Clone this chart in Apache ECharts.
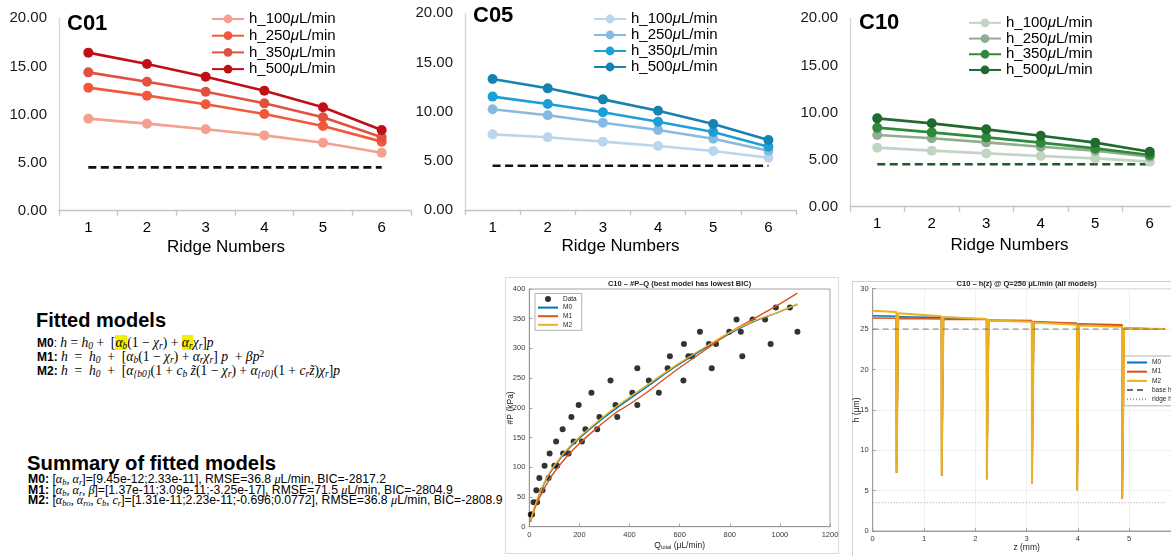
<!DOCTYPE html>
<html><head><meta charset="utf-8">
<script src="https://cdn.jsdelivr.net/npm/echarts@6/dist/echarts.min.js"></script>
<style>
html,body{margin:0;padding:0;background:#fff;width:1171px;height:556px;overflow:hidden;position:relative;font-family:"Liberation Sans",Arial,sans-serif;}
.ch{position:absolute;}
.bx{position:absolute;border:1px solid #d4d4d4;pointer-events:none;}
.txt{position:absolute;white-space:nowrap;color:#000;}
.m{font-family:"Liberation Serif","DejaVu Serif",serif;font-style:italic;font-size:13.6px;}
.r{font-family:"Liberation Serif","DejaVu Serif",serif;font-style:normal;font-size:13.6px;}
sub{font-size:70%;vertical-align:-0.25em;line-height:0;}
sup{font-size:70%;vertical-align:0.4em;line-height:0;}
.hl{background:#f3ef00;}
.sm .m{font-size:12.2px;}
</style></head><body>
<div id="c01" class="ch" style="left:0;top:0;width:430px;height:265px"></div>
<div id="c05" class="ch" style="left:400px;top:0;width:420px;height:265px"></div>
<div id="c10" class="ch" style="left:780px;top:0;width:420px;height:265px"></div>

<div class="txt" style="left:36px;top:310px;font-size:20px;line-height:20px;font-weight:bold">Fitted models</div>
<div class="txt" style="left:37px;top:336px;font-size:12px;line-height:14px">
<div><b>M0</b>: <span class="m">h</span> <span class="r">=</span> <span class="m">h<sub>0</sub></span> <span class="r">+ &nbsp;[</span><span class="m hl">α<sub>b</sub></span><span class="r">(1 − </span><span class="m">χ<sub>r</sub></span><span class="r">) + </span><span class="m hl">α<sub>r</sub></span><span class="m">χ<sub>r</sub></span><span class="r">]</span><span class="m">p</span></div>
<div><b>M1:</b> <span class="m">h</span> <span class="r">&nbsp;= &nbsp;</span><span class="m">h<sub>0</sub></span> <span class="r">&nbsp;+ &nbsp;[</span><span class="m">α<sub>b</sub></span><span class="r">(1 − </span><span class="m">χ<sub>r</sub></span><span class="r">) + </span><span class="m">α<sub>r</sub>χ<sub>r</sub></span><span class="r">] </span><span class="m">p</span><span class="r"> &nbsp;+ </span><span class="m">βp</span><span class="r"><sup>2</sup></span></div>
<div><b>M2:</b> <span class="m">h</span> <span class="r">&nbsp;= &nbsp;</span><span class="m">h<sub>0</sub></span> <span class="r">&nbsp;+ &nbsp;[</span><span class="m">α<sub>{b0}</sub></span><span class="r">(1 + </span><span class="m">c<sub>b</sub> z̃</span><span class="r">(1 − </span><span class="m">χ<sub>r</sub></span><span class="r">) + </span><span class="m">α<sub>{r0}</sub></span><span class="r">(1 + </span><span class="m">c<sub>r</sub>z̃</span><span class="r">)</span><span class="m">χ<sub>r</sub></span><span class="r">]</span><span class="m">p</span></div>
</div>

<div class="txt" style="left:27px;top:453px;font-size:20.3px;line-height:20px;font-weight:bold">Summary of fitted models</div>
<div class="txt sm" style="left:28px;top:474px;font-size:12.2px;line-height:10.7px">
<div><b>M0:</b> [<span class="m">α<sub>b</sub>, α<sub>r</sub></span>]=[9.45e-12;2.33e-11], RMSE=36.8 <span class="m">μ</span>L/min, BIC=-2817.2</div>
<div><b>M1:</b> [<span class="m">α<sub>b</sub>, α<sub>r</sub>, β</span>]=[1.37e-11;3.09e-11;-3.25e-17], RMSE=71.5 <span class="m">μ</span>L/min, BIC=-2804.9</div>
<div><b>M2:</b> [<span class="m">α<sub>bo</sub>, α<sub>ro</sub>, c<sub>b</sub>, c<sub>r</sub></span>]=[1.31e-11;2.23e-11;-0.696;0.0772], RMSE=36.8 <span class="m">μ</span>L/min, BIC=-2808.9</div>
</div>

<div class="bx" style="left:505px;top:277px;width:332px;height:275px;border-color:#dcdcdc"></div>
<div class="bx" style="left:852px;top:281px;width:340px;height:300px;border-color:#d0d0d0"></div>
<div id="sc" class="ch" style="left:500px;top:270px;width:345px;height:286px"></div>
<div id="hz" class="ch" style="left:840px;top:270px;width:360px;height:286px"></div>

<script>
// ---------- Top panels: ridge heights ----------
var ridgeCategories = ['1', '2', '3', '4', '5', '6'];
var seriesNames = ['h_100μL/min', 'h_250μL/min', 'h_350μL/min', 'h_500μL/min'];

var c01_h100 = [9.57, 9.05, 8.46, 7.83, 7.07, 6.03];
var c01_h250 = [12.79, 11.96, 11.06, 10.05, 8.80, 7.18];
var c01_h350 = [14.38, 13.41, 12.37, 11.16, 9.71, 7.63];
var c01_h500 = [16.43, 15.25, 13.93, 12.48, 10.75, 8.39];

var c05_h100 = [7.69, 7.39, 6.95, 6.51, 6.00, 5.32];
var c05_h250 = [10.24, 9.63, 8.88, 8.14, 7.25, 6.03];
var c05_h350 = [11.53, 10.78, 9.93, 8.98, 7.93, 6.44];
var c05_h500 = [13.32, 12.37, 11.25, 10.10, 8.75, 7.12];

var c10_h100 = [6.27, 5.95, 5.66, 5.38, 5.13, 4.78];
var c10_h250 = [7.61, 7.26, 6.83, 6.37, 5.95, 5.31];
var c10_h350 = [8.39, 7.89, 7.36, 6.80, 6.19, 5.49];
var c10_h500 = [9.38, 8.85, 8.21, 7.54, 6.80, 5.84];

var baseLevel = [4.5, 4.5, 4.5, 4.5, 4.5, 4.5];

// ---------- Scatter panel: #P vs Q ----------
var qData = [6, 11, 17, 31, 28, 53, 40, 77, 61, 100, 111, 81, 135, 157, 107, 177, 210, 133, 224, 271,
  168, 280, 351, 197, 344, 431, 248, 411, 517, 324, 477, 615, 431, 552, 728, 561, 635, 651, 850,
  617, 717, 745, 963, 681, 798, 844, 1070, 827, 891, 941, 984, 1040];
var pData = [20.5, 20.5, 41, 41, 61.5, 61.5, 82, 82, 102.5, 102.5, 102.5, 123, 123, 123, 143.5, 143.5, 143.5, 164, 164, 164,
  184.5, 184.5, 184.5, 205, 205, 205, 225.5, 225.5, 225.5, 246, 246, 246, 266.5, 266.5, 266.5, 287, 287, 287, 287,
  307.5, 307.5, 307.5, 307.5, 328, 328, 328, 328, 348.5, 348.5, 348.5, 369, 369];
var qFit = [5, 25, 50, 75, 100, 150, 200, 275, 350, 400, 475, 575, 700, 800, 900, 1000, 1070];
var m0Fit = [10, 38, 64, 85, 101, 128, 149, 176, 200, 215, 237, 267, 300, 325, 346, 362, 374];
var m1Fit = [8, 34, 57, 76, 92, 118, 140, 168, 193, 206, 228, 260, 297, 327, 351, 375, 393];
var m2Fit = [10, 39, 65, 87, 103, 130, 151, 178, 203, 218, 240, 269, 302, 327, 347, 362, 375];

// ---------- h(z) panel ----------
var zProfile = [0, 0.46, 0.465, 0.495, 0.50, 1.34, 1.345, 1.375, 1.38, 2.22, 2.225, 2.255, 2.26,
  3.10, 3.105, 3.135, 3.14, 3.98, 3.985, 4.015, 4.02, 4.86, 4.865, 4.895, 4.90, 5.70];
var hM0 = [26.66, 26.58, 7.2, 7.05, 26.54, 26.42, 6.8, 6.65, 26.38, 26.25, 6.4, 6.25, 26.05,
  25.95, 5.85, 5.7, 25.85, 25.7, 5.05, 4.9, 25.5, 25.4, 3.95, 3.78, 25.1, 25.0];
var hM1 = [26.37, 26.33, 7.2, 7.05, 26.3, 26.25, 6.8, 6.65, 26.22, 26.18, 6.4, 6.25, 26.12,
  26.05, 5.85, 5.7, 25.93, 25.72, 5.05, 4.9, 25.65, 25.55, 3.95, 3.78, 25.1, 25.0];
var hM2 = [27.28, 27.1, 7.2, 7.05, 26.96, 26.6, 6.8, 6.65, 26.5, 26.26, 6.4, 6.25, 26.05,
  25.9, 5.85, 5.7, 25.8, 25.55, 5.05, 4.9, 25.43, 25.3, 3.95, 3.78, 25.1, 25.0];
var zRef = [0, 5.7];
var baseH0 = [25, 25];
var ridgeHr = [3.5, 3.5];

function zip(a, b) { return a.map(function (v, i) { return [v, b[i]]; }); }
function lineItem(n) { return { name: n, itemStyle: { opacity: 0 } }; }

function topChart(id, cfg) {
  var ch = echarts.init(document.getElementById(id), null, { renderer: 'canvas' });
  var series = cfg.values.map(function (vals, i) {
    return {
      name: seriesNames[i], type: 'line', data: vals, symbol: 'circle', symbolSize: 10,
      lineStyle: { width: 2.6, color: cfg.colors[i] }, itemStyle: { color: cfg.colors[i] },
      z: 3 + i
    };
  });
  series.push({
    name: 'ref', type: 'line', data: baseLevel, symbol: 'none',
    lineStyle: { width: 2.6, color: cfg.refColor, type: [8, 4.5] }, z: 2
  });
  ch.setOption({
    animation: false,
    title: { text: cfg.title, left: cfg.titleLeft, top: cfg.titleTop, padding: 0,
      textStyle: { fontSize: 22, fontWeight: 'bold', color: '#000', fontFamily: 'Liberation Sans' } },
    legend: { orient: 'vertical', left: cfg.legLeft, top: cfg.legTop, padding: 0, itemGap: cfg.legGap,
      itemWidth: 32, itemHeight: 11, data: seriesNames,
      formatter: function (n) { return n.replace('μ', '{i|μ}'); },
      textStyle: { fontSize: 15, color: '#000', lineHeight: cfg.legLH, fontFamily: 'Liberation Sans',
        rich: { i: { fontSize: 15, fontStyle: 'italic', color: '#000', fontFamily: 'Liberation Sans', lineHeight: cfg.legLH } } } },
    grid: { left: cfg.grid[0], top: cfg.grid[1], width: cfg.grid[2], height: cfg.grid[3], outerBoundsMode: 'none', containLabel: false },
    xAxis: { type: 'category', data: ridgeCategories, boundaryGap: true,
      axisLine: { lineStyle: { color: '#c4c4c4', width: 1.3 } },
      axisTick: { show: true, length: 5, lineStyle: { color: '#c4c4c4', width: 1.3 } },
      axisLabel: { fontSize: 15, color: '#000', margin: 10, fontFamily: 'Liberation Sans' },
      name: 'Ridge Numbers', nameLocation: 'middle', nameGap: cfg.nameGap, nameMoveOverlap: false,
      nameTextStyle: { fontSize: 17, color: '#000', padding: [0, cfg.nameShift, 0, 0], fontFamily: 'Liberation Sans' } },
    yAxis: { type: 'value', min: 0, max: 20, interval: 5,
      axisLine: { show: true, lineStyle: { color: '#d6d6d6', width: 1.3 } },
      axisTick: { show: false }, splitLine: { show: false },
      axisLabel: { fontSize: 15, color: '#1a1a1a', margin: 12, fontFamily: 'Liberation Sans',
        formatter: function (v) { return v.toFixed(2); } } },
    series: series
  });
}

topChart('c01', {
  title: 'C01', titleLeft: 67, titleTop: 13, legLeft: 211, legTop: 11, legGap: 0.7, legLH: 16,
  grid: [59, 18.3, 352, 192.4], nameGap: 28, nameShift: 18,
  colors: ['#F5A08E', '#F3583C', '#E2503F', '#C10F17'], refColor: '#111',
  values: [c01_h100, c01_h250, c01_h350, c01_h500]
});
topChart('c05', {
  title: 'C05', titleLeft: 73, titleTop: 5, legLeft: 193, legTop: 11, legGap: 0, legLH: 16,
  grid: [65, 13.3, 331, 196.7], nameGap: 28, nameShift: 20,
  colors: ['#BAD5EC', '#88BAE0', '#1C9FD6', '#1682B2'], refColor: '#111',
  values: [c05_h100, c05_h250, c05_h350, c05_h500]
});
topChart('c10', {
  title: 'C10', titleLeft: 79, titleTop: 12, legLeft: 188, legTop: 15, legGap: 0, legLH: 15.7,
  grid: [70, 18.3, 327, 188.4], nameGap: 30, nameShift: 8,
  colors: ['#C4D4C4', '#90AD90', '#2E8A3B', '#1F6A2C'], refColor: '#1E5A28',
  values: [c10_h100, c10_h250, c10_h350, c10_h500]
});

// ---------- scatter ----------
var sc = echarts.init(document.getElementById('sc'));
var matAxis = function (o) {
  return Object.assign({
    axisLine: { show: true, onZero: false, lineStyle: { color: '#8c8c8c', width: 0.8 } },
    axisTick: { show: true, inside: true, length: 3, lineStyle: { color: '#8c8c8c', width: 0.8 } },
    axisLabel: { fontSize: 7.5, color: '#3a3a3a', margin: 4, fontFamily: 'Liberation Sans',
      formatter: function (v) { return String(v); } },
    nameLocation: 'middle', nameMoveOverlap: false,
    nameTextStyle: { fontSize: 8.5, color: '#222', fontFamily: 'Liberation Sans' }
  }, o);
};
sc.setOption({
  animation: false,
  grid: { left: 29.3, top: 19, width: 300.7, height: 237.7, show: true, borderColor: '#8c8c8c', borderWidth: 0.8, outerBoundsMode: 'none', containLabel: false },
  graphic: [{ type: 'text', x: 179.6, y: 13.5, style: { text: 'C10 – #P–Q (best model has lowest BIC)', textAlign: 'center', textVerticalAlign: 'middle', font: 'bold 7.5px "Liberation Sans"', fill: '#222' } }],
  legend: { orient: 'vertical', left: 35, top: 23.5, padding: [2, 5, 2, 2], itemGap: 1.6, itemWidth: 20, itemHeight: 6,
    backgroundColor: '#fff', borderColor: '#7a7a7a', borderWidth: 0.6,
    textStyle: { fontSize: 6.5, color: '#222', fontFamily: 'Liberation Sans' },
    data: ['Data', lineItem('M0'), lineItem('M1'), lineItem('M2')] },
  xAxis: matAxis({ type: 'value', min: 0, max: 1200, interval: 200, splitLine: { show: false },
    name: '{n|Q}{s|total}{n| (μL/min)}', nameGap: 13,
    nameTextStyle: { fontSize: 8.5, color: '#222', fontFamily: 'Liberation Sans',
      rich: { n: { fontSize: 8.5, color: '#222' }, s: { fontSize: 5.5, color: '#222', verticalAlign: 'bottom', padding: [5, 0, 0, 0] } } } }),
  yAxis: matAxis({ type: 'value', min: 0, max: 400, interval: 50, splitLine: { show: false },
    name: '#P (kPa)', nameGap: 14 }),
  series: [
    { name: 'Data', type: 'scatter', data: zip(qData, pData), symbol: 'circle', symbolSize: 6, itemStyle: { color: '#000' }, z: 2 },
    { name: 'M0', type: 'line', data: zip(qFit, m0Fit), symbol: 'none', smooth: 0.3, lineStyle: { color: '#0072BD', width: 1.4 }, itemStyle: { color: '#0072BD' }, z: 3 },
    { name: 'M1', type: 'line', data: zip(qFit, m1Fit), symbol: 'none', smooth: 0.3, lineStyle: { color: '#D95319', width: 1.4 }, itemStyle: { color: '#D95319' }, z: 4 },
    { name: 'M2', type: 'line', data: zip(qFit, m2Fit), symbol: 'none', smooth: 0.3, lineStyle: { color: '#EDB120', width: 1.4 }, itemStyle: { color: '#EDB120' }, z: 5 }
  ]
});

// ---------- h(z) ----------
var hz = echarts.init(document.getElementById('hz'));
hz.setOption({
  animation: false,
  grid: { left: 32.7, top: 18.7, width: 307.8, height: 242.3, show: true, borderColor: '#8c8c8c', borderWidth: 0.8, outerBoundsMode: 'none', containLabel: false },
  graphic: [{ type: 'text', x: 186.6, y: 14, style: { text: 'C10 – h(z) @ Q=250 μL/min (all models)', textAlign: 'center', textVerticalAlign: 'middle', font: 'bold 7.5px "Liberation Sans"', fill: '#222' } }],
  legend: { orient: 'vertical', left: 284, top: 86, padding: [3, 6, 3, 2], itemGap: 2.2, itemWidth: 20, itemHeight: 5,
    backgroundColor: '#fff', borderColor: '#7a7a7a', borderWidth: 0.6,
    textStyle: { fontSize: 6.5, color: '#222', fontFamily: 'Liberation Sans' },
    data: [lineItem('M0'), lineItem('M1'), lineItem('M2'), lineItem('base h₀'), lineItem('ridge hᵣ')] },
  xAxis: matAxis({ type: 'value', min: 0, max: 6, interval: 1,
    splitLine: { show: true, lineStyle: { color: '#ececec', width: 0.8 } },
    name: 'z (mm)', nameGap: 12 }),
  yAxis: matAxis({ type: 'value', min: 0, max: 30, interval: 5,
    splitLine: { show: true, lineStyle: { color: '#ececec', width: 0.8 } },
    name: 'h (μm)', nameGap: 12 }),
  series: [
    { name: 'M0', type: 'line', data: zip(zProfile, hM0), symbol: 'none', lineStyle: { color: '#0072BD', width: 1.5 }, itemStyle: { color: '#0072BD' }, z: 3 },
    { name: 'M1', type: 'line', data: zip(zProfile, hM1), symbol: 'none', lineStyle: { color: '#D95319', width: 1.5 }, itemStyle: { color: '#D95319' }, z: 4 },
    { name: 'M2', type: 'line', data: zip(zProfile, hM2), symbol: 'none', lineStyle: { color: '#EDB120', width: 2 }, itemStyle: { color: '#EDB120' }, z: 5 },
    { name: 'base h₀', type: 'line', data: zip(zRef, baseH0), symbol: 'none', lineStyle: { color: '#6e6e6e', width: 0.9, type: [6, 4] }, itemStyle: { color: '#6e6e6e' }, z: 6 },
    { name: 'ridge hᵣ', type: 'line', data: zip(zRef, ridgeHr), symbol: 'none', lineStyle: { color: '#9a9a9a', width: 0.9, type: [1, 2] }, itemStyle: { color: '#9a9a9a' }, z: 6 }
  ]
});
</script>
</body></html>
